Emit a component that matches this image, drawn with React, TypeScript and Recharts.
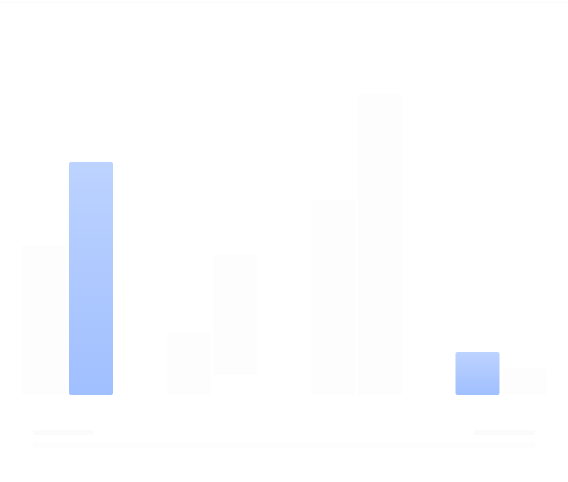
import { Bar, BarChart, Cell, XAxis, YAxis } from 'recharts';

// skeleton-style bar chart: faint placeholder bars, two highlighted
const categories = ['A', 'B', 'C', 'D'];
const seriesA = [150, 63, 195, 43];
const seriesB: (number | [number, number])[] = [233, [20, 140], 301, 27];
const highlightA = [false, false, false, true];
const highlightB = [true, false, false, false];

const data = categories.map((c, i) => ({ name: c, a: seriesA[i], b: seriesB[i] }));

const FAINT = '#fdfdfd';

export default function App() {
  return (
    <div style={{ position: 'absolute', left: 0, top: 0, width: 568, height: 482, overflow: 'hidden', background: '#fff' }}>
      <div style={{ position: 'absolute', left: 0, top: 1, width: 568, height: 2, background: '#fdfdfd' }} />
      <div style={{ position: 'absolute', left: -5, top: 0 }}>
        <BarChart
          width={578}
          height={482}
          data={data}
          margin={{ top: 70, right: 0, bottom: 87, left: 0 }}
          barSize={44}
          barGap={3}
        >
          <defs>
            <linearGradient id="hl" x1="0" y1="0" x2="0" y2="1">
              <stop offset="0%" stopColor="#bdd3ff" />
              <stop offset="100%" stopColor="#a0bfff" />
            </linearGradient>
          </defs>
          <XAxis dataKey="name" hide />
          <YAxis hide domain={[0, 325]} />
          <Bar dataKey="a" radius={2} isAnimationActive={false}>
            {data.map((_, i) => (
              <Cell key={i} fill={highlightA[i] ? 'url(#hl)' : FAINT} />
            ))}
          </Bar>
          <Bar dataKey="b" radius={2} isAnimationActive={false}>
            {data.map((_, i) => (
              <Cell key={i} fill={highlightB[i] ? 'url(#hl)' : FAINT} />
            ))}
          </Bar>
        </BarChart>
      </div>
      <div style={{ position: 'absolute', left: 33, top: 430, width: 60, height: 5, background: '#fbfbfb' }} />
      <div style={{ position: 'absolute', left: 474, top: 430, width: 61, height: 5, background: '#fbfbfb' }} />
      <div style={{ position: 'absolute', left: 33, top: 443, width: 502, height: 5, background: '#fdfdfd' }} />
    </div>
  );
}
